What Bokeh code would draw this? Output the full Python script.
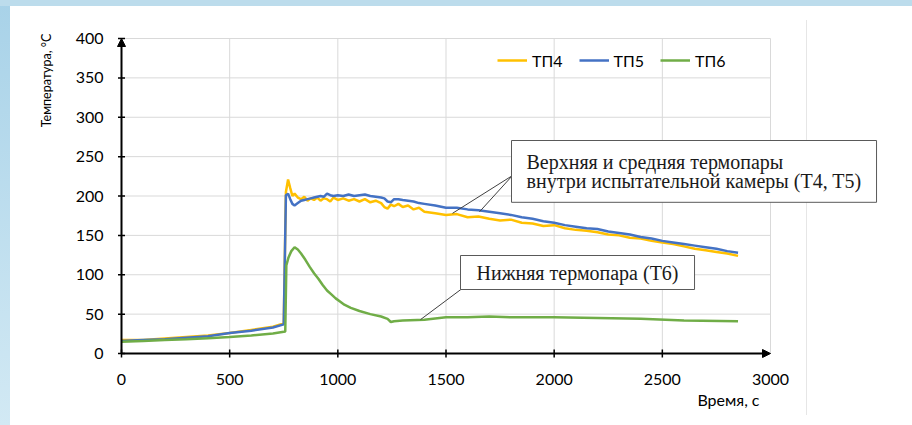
import math
from bokeh.plotting import figure
from bokeh.models import Label, Legend, LegendItem, Arrow, NormalHead, Range1d
from bokeh.core.properties import value
from bokeh.embed import file_html
from bokeh.resources import INLINE

# ---------------- data ----------------
time_s = [0, 100, 200, 300, 400, 500, 600, 700, 750, 760,
          770, 780, 790, 800, 815, 830, 845, 860, 875, 890,
          905, 920, 935, 950, 965, 980, 1000, 1025, 1050, 1075,
          1100, 1125, 1150, 1175, 1200, 1215, 1230, 1245, 1260, 1280,
          1300, 1325, 1350, 1375, 1400, 1450, 1500, 1550, 1600, 1650,
          1700, 1750, 1800, 1850, 1900, 1950, 2000, 2050, 2100, 2150,
          2200, 2250, 2300, 2350, 2400, 2450, 2500, 2550, 2600, 2650,
          2700, 2750, 2800, 2850]

tp4 = [17, 17, 19, 21, 23, 26, 30, 34, 38, 205,
       221, 210, 200, 203, 198, 196, 199, 194, 197, 195,
       198, 194, 197, 196, 193, 198, 195, 197, 194, 196,
       193, 196, 192, 194, 191, 186, 184, 189, 187, 190,
       186, 188, 183, 185, 180, 178, 176, 177, 173, 174,
       171, 169, 170, 166, 165, 162, 163, 159, 157, 156,
       154, 151, 150, 147, 146, 143, 141, 139, 136, 133,
       131, 129, 127, 124]

tp5 = [16, 17, 18, 20, 22, 26, 29, 33, 37, 201,
       203, 196, 190, 188, 191, 194, 195, 196, 197, 198,
       199, 200, 199, 203, 201, 200, 201, 200, 202, 200,
       201, 202, 200, 199, 198, 197, 193, 192, 196, 196,
       195, 194, 193, 191, 190, 188, 185, 185, 183, 182,
       180, 178, 176, 173, 171, 168, 166, 163, 161, 159,
       158, 155, 153, 151, 148, 146, 143, 141, 139, 137,
       135, 133, 130, 128]

time6 = [0, 100, 200, 300, 400, 500, 600, 700, 750, 757,
         762, 772, 785, 800, 815, 830, 850, 870, 890, 910,
         930, 950, 970, 990, 1010, 1030, 1060, 1100, 1150, 1200,
         1230, 1245, 1260, 1300, 1400, 1500, 1600, 1700, 1800, 1900,
         2000, 2200, 2400, 2600, 2850]

tp6 = [15, 16, 17, 18, 19.5, 21, 23, 25.5, 27.5, 28,
       112, 122, 130, 135, 132, 127, 119, 110, 102, 95,
       87, 80, 75, 70, 66, 62, 58, 54, 50, 47,
       44, 40, 41, 42, 43, 46, 46, 47, 46, 46,
       46, 45, 44, 42, 41]

series_names = ["ТП4", "ТП5", "ТП6"]
x_ticks = [0, 500, 1000, 1500, 2000, 2500, 3000]
y_ticks = [0, 50, 100, 150, 200, 250, 300, 350, 400]
x_title = "Время, с"
y_title = "Температура, °С"
note_top = "Верхняя и средняя термопары\nвнутри испытательной камеры (T4, T5)"
note_bottom = "Нижняя термопара (T6)"

# leader-line targets on the curves (data coordinates)
lead_top_to_t = [1530, 1655]
lead_top_to_v = [178, 180]
lead_bot_to = (1382, 43)

# ---------------- layout ----------------
W, H = 912, 425
X0_PX, X1_PX = 121, 770      # pixel of x=0 and x=3000
Y0_PX, Y1_PX = 353, 38       # pixel of y=0 and y=400
XMAX, YMAX = x_ticks[-1], y_ticks[-1]
sx = XMAX / (X1_PX - X0_PX)
sy = YMAX / (Y0_PX - Y1_PX)


def dx(px):
    return (px - X0_PX) * sx


def dy(py):
    return (Y0_PX - py) * sy


colors = ["#FFC000", "#4472C4", "#70AD47"]
SANS = "Lato"
SERIF = "Liberation Serif"

p = figure(width=W, height=H, output_backend="svg", toolbar_location=None,
           x_range=Range1d(dx(0), dx(W)), y_range=Range1d(dy(H), dy(0)),
           x_axis_location=None, y_axis_location=None,
           min_border=0, min_border_left=0, min_border_right=0,
           min_border_top=0, min_border_bottom=0)
p.background_fill_alpha = 0
p.border_fill_alpha = 0
p.outline_line_color = None
p.grid.visible = False

# grid
gx = x_ticks[1:]
p.segment(x0=gx, y0=[0] * len(gx), x1=gx, y1=[YMAX] * len(gx),
          line_color="#d9d9d9", line_width=1)
gy = y_ticks[1:]
p.segment(x0=[0] * len(gy), y0=gy, x1=[XMAX] * len(gy), y1=gy,
          line_color="#d9d9d9", line_width=1)

# series
r4 = p.line(time_s, tp4, line_color=colors[0], line_width=2.5)
r5 = p.line(time_s, tp5, line_color=colors[1], line_width=2.5)
r6 = p.line(time6, tp6, line_color=colors[2], line_width=2.5)

# axes with arrowheads
for xs, ys, xe, ye in ((0, 0, 0, YMAX), (0, 0, XMAX, 0)):
    p.add_layout(Arrow(end=NormalHead(size=8, fill_color="black", line_color="black"),
                       x_start=xs, y_start=ys, x_end=xe, y_end=ye,
                       line_color="black", line_width=2))
p.scatter(x=[0] * len(y_ticks), y=y_ticks, marker="dash", size=7,
          line_color="black", line_width=1.5)
p.scatter(x=x_ticks[:-1], y=[0] * (len(x_ticks) - 1), marker="dash", size=8, angle=math.pi / 2,
          line_color="black", line_width=1.5)

# tick labels
p.text(x=[dx(103)] * len(y_ticks), y=y_ticks, text=[str(v) for v in y_ticks],
       text_align="right", text_baseline="middle", text_font=value(SANS),
       text_font_size="16px", text_color="black")
p.text(x=x_ticks, y=[dy(379)] * len(x_ticks), text=[str(v) for v in x_ticks],
       text_align="center", text_baseline="middle", text_font=value(SANS),
       text_font_size="16px", text_color="black")

# axis titles
p.text(x=[dx(46)], y=[dy(80)], text=[y_title], angle=math.pi / 2,
       text_align="center", text_baseline="middle", text_font=value(SANS),
       text_font_size="12.5px", text_color="black")
p.text(x=[dx(759)], y=[dy(399)], text=[x_title],
       text_align="right", text_baseline="middle", text_font=value(SANS),
       text_font_size="16px", text_color="black")

# legend
legend = Legend(items=[LegendItem(label=series_names[0], renderers=[r4]),
                       LegendItem(label=series_names[1], renderers=[r5]),
                       LegendItem(label=series_names[2], renderers=[r6])],
                orientation="horizontal", location=(497, H - 70),
                padding=0, margin=0, spacing=16, glyph_width=30, glyph_height=20,
                label_standoff=5, border_line_color=None, background_fill_alpha=0,
                label_text_font=SANS, label_text_font_size="16px", label_text_color="black")
p.add_layout(legend, "center")

# leader lines
for t_end, v_end in zip(lead_top_to_t, lead_top_to_v):
    p.line([dx(512), t_end], [dy(175), v_end], line_color="#404040", line_width=1)
p.line([dx(463), lead_bot_to[0]], [dy(287), lead_bot_to[1]], line_color="#404040", line_width=1)

# callouts (shadow + box); padding given as (horizontal, vertical)
callouts = [((dx(511), dy(140)), note_top, (15, 10)),
            ((dx(460), dy(255)), note_bottom, (16, 6))]
for (nx, ny), txt, pad in callouts:
    p.add_layout(Label(x=nx, y=ny, text=txt, text_align="left", text_baseline="top",
                       text_font=SERIF, text_font_size="20px", text_alpha=0,
                       text_line_height=0.9, padding=pad,
                       background_fill_color="#8c8c8c", background_fill_alpha=0.55,
                       x_offset=3, y_offset=-3))
    p.add_layout(Label(x=nx, y=ny, text=txt, text_align="left", text_baseline="top",
                       text_font=SERIF, text_font_size="20px", text_color="#1a1a1a",
                       text_line_height=0.9, padding=pad,
                       background_fill_color="white", border_line_color="#595959",
                       border_line_width=1))

css = ("<style>html,body{background:"
       "linear-gradient(#bcdcec,#bcdcec) 0 0/100% 6px no-repeat,"
       "linear-gradient(to bottom,#a8d2e8,#d2e9f4) 0 0/10px 100% no-repeat,"
       "linear-gradient(#e6e6e6,#e6e6e6) 806px 20px/1px 395px no-repeat,"
       "#ffffff;}</style>")
html = file_html(p, INLINE)
html = html.replace("<head>", "<head>" + css, 1)
open("out.html", "w").write(html)
